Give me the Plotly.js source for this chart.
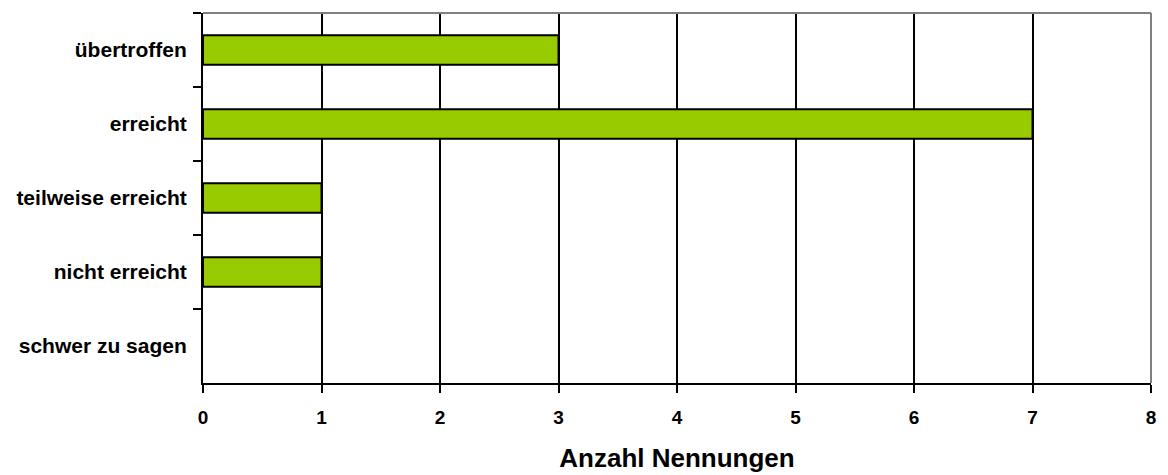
<!DOCTYPE html>
<html>
<head>
<meta charset="utf-8">
<script src="https://cdn.plot.ly/plotly-3.0.1.min.js"></script>
<style>html,body{margin:0;padding:0;background:#fff;}#chart{width:1168px;height:475px;}</style>
</head>
<body>
<div id="chart"></div>
<script>
const categories = ["übertroffen", "erreicht", "teilweise erreicht", "nicht erreicht", "schwer zu sagen"];
const counts = [3, 7, 1, 1, 0];
const xTickValues = [0, 1, 2, 3, 4, 5, 6, 7, 8];
const xTitle = "Anzahl Nennungen";

const font = "'Liberation Sans', Arial, sans-serif";

const trace = {
  type: "bar",
  orientation: "h",
  y: categories,
  x: counts,
  marker: { color: "#99CC00", line: { color: "#000000", width: counts.map(v => v > 0 ? 2 : 0) } },
  hoverinfo: "x+y"
};

const layout = {
  width: 1168,
  height: 475,
  margin: { l: 203, r: 17, t: 13, b: 92 },
  paper_bgcolor: "#ffffff",
  plot_bgcolor: "#ffffff",
  bargap: 0.6,
  showlegend: false,
  font: { family: font, color: "#000000" },
  xaxis: {
    range: [0, 8],
    tickvals: xTickValues,
    ticktext: xTickValues.map(String),
    showgrid: true,
    gridcolor: "#000000",
    gridwidth: 2,
    zeroline: false,
    showline: true,
    linecolor: "#000000",
    linewidth: 2,
    ticks: "outside",
    ticklen: 8,
    tickwidth: 2,
    tickcolor: "#000000",
    ticklabelstandoff: 8,
    tickfont: { family: font, size: 19, color: "#000000", weight: "bold" },
    title: { text: "<b>" + xTitle + "</b>", font: { family: font, size: 26, color: "#000000" }, standoff: 22 },
    fixedrange: true
  },
  yaxis: {
    type: "category",
    autorange: "reversed",
    showgrid: false,
    zeroline: false,
    showline: true,
    linecolor: "#000000",
    linewidth: 2,
    ticks: "outside",
    tickson: "boundaries",
    ticklen: 8,
    tickwidth: 2,
    tickcolor: "#000000",
    ticklabelstandoff: 10,
    tickfont: { family: font, size: 21, color: "#000000", weight: "bold" },
    fixedrange: true
  },
  shapes: [
    { type: "line", xref: "paper", yref: "paper", x0: 0, x1: 1, y0: 1, y1: 1, line: { color: "#808080", width: 2 }, layer: "above" },
    { type: "line", xref: "paper", yref: "paper", x0: 1, x1: 1, y0: 0, y1: 1, line: { color: "#808080", width: 2 }, layer: "above" }
  ]
};

Plotly.newPlot("chart", [trace], layout, { displayModeBar: false, staticPlot: true });
</script>
</body>
</html>
